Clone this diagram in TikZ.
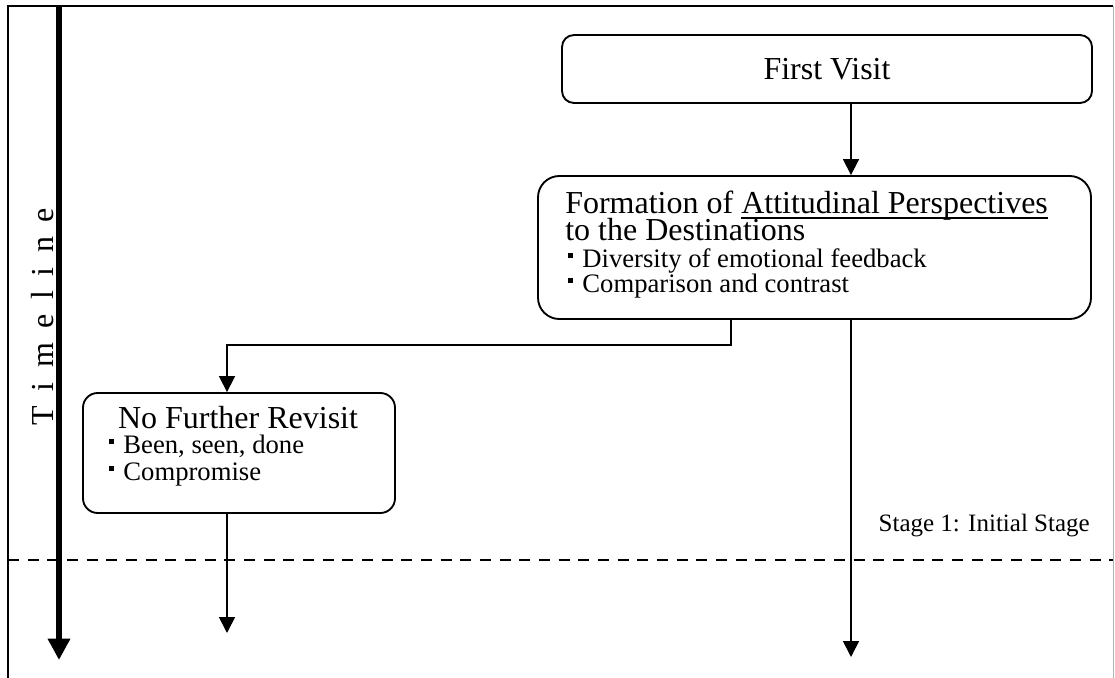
\documentclass[tikz,border=0pt]{standalone}
\usepackage{fontspec}
\setmainfont{Liberation Serif}
\usetikzlibrary{arrows.meta}

% small square bullet and a close underline for the heading
\newcommand\sqbullet{\rule[0.34em]{0.19em}{0.19em}\hspace{0.34em}}
\newcommand\ulinetext[1]{{\setbox0\hbox{#1}\rlap{\rule[-0.19em]{\wd0}{0.06em}}\box0}}

\begin{document}
\begin{tikzpicture}[x=0.75pt, y=-0.75pt,
  box/.style={draw, line width=1.4pt, inner sep=0pt},
  hdr/.style={font=\fontsize{24}{27}\selectfont, inner sep=0pt},
  itm/.style={font=\fontsize{20}{24}\selectfont, inner sep=0pt, anchor=base west},
  conn/.style={line width=1.3pt, -{Triangle[length=12pt,width=12pt]}},
  timeaxis/.style={line width=4.5pt, -{Triangle[length=16pt,width=16pt]}},
  divider/.style={line width=1.1pt, dash pattern=on 8.25pt off 6.5pt}]
\useasboundingbox (0,0) rectangle (1115,678);

% frame
\draw[line width=1.5pt] (8,678) -- (8,6) -- (1113,6);
\draw[line width=1pt, black!30] (1113.5,6) -- (1113.5,678);

% stage divider and label
\coordinate (divL) at (8,560);
\coordinate (divR) at (1113,560);
\draw[divider] (divL) -- (divR);
\node[font=\fontsize{18.75}{22}\selectfont, inner sep=0pt, anchor=base east] (stage) at (1090,531) {Stage 1: Initial Stage};

% timeline
\coordinate (tlTop) at (59,6);
\coordinate (tlEnd) at (59,660);
\draw[timeaxis] (tlTop) -- (tlEnd);
\node[rotate=90, anchor=base, font=\fontsize{24}{28}\selectfont, inner sep=0pt] (tl) at (53,316.5)
  {\spaceskip=10.9pt\relax T i m e l i n e};

% boxes
\node[box, rounded corners=9pt, minimum width=397.5pt, minimum height=51pt, hdr] (fv) at (827,69) {First Visit};

\node[box, rounded corners=16pt, minimum width=414.75pt, minimum height=107.25pt] (form) at (814.5,247.5) {};
\node[hdr, anchor=base west] (formA) at (565,213) {Formation of \ulinetext{Attitudinal Perspectives}};
\node[hdr, anchor=base west] (formB) at (565,240) {to the Destinations};
\node[itm] (formC) at (568,267) {\sqbullet Diversity of emotional feedback};
\node[itm] (formD) at (568,292) {\sqbullet Comparison and contrast};

\node[box, rounded corners=11pt, minimum width=234pt, minimum height=90pt] (nfr) at (239,453) {};
\node[hdr, anchor=base] (nfrA) at (238,428) {No Further Revisit};
\node[itm] (nfrB) at (109,453) {\sqbullet Been, seen, done};
\node[itm] (nfrC) at (109,480) {\sqbullet Compromise};

% connectors
\coordinate (mainx) at (851,0);
\coordinate (splitx) at (731,0);
\coordinate (leftx) at (227,0);
\coordinate (endR) at (851,657);
\coordinate (endL) at (227,633);

\draw[conn] (mainx |- fv.south) -- (mainx |- form.north);
\draw[conn] (splitx |- form.south) -- ++(0,25) -| (leftx |- nfr.north);
\draw[conn] (mainx |- form.south) -- (endR);
\draw[conn] (leftx |- nfr.south) -- (endL);
\end{tikzpicture}
\end{document}
